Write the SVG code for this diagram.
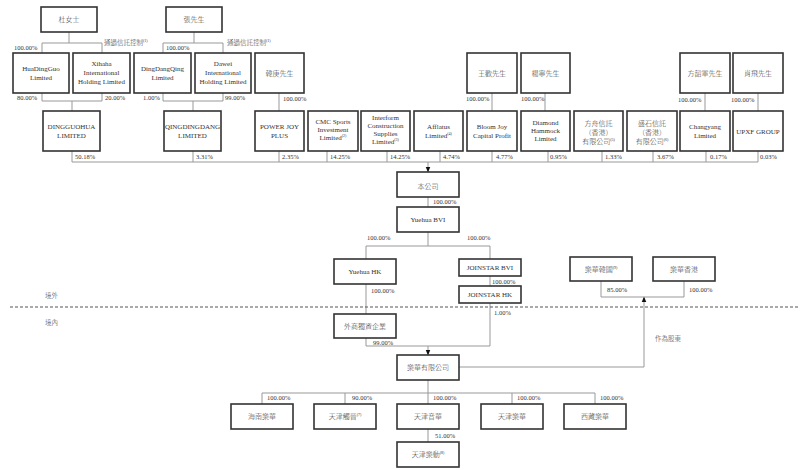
<svg xmlns="http://www.w3.org/2000/svg" width="800" height="470" viewBox="0 0 800 470">
<style>
.box{fill:#fff;stroke:#333;stroke-width:1.6}
.t{font-family:"Liberation Serif","Noto Sans CJK TC",serif;font-size:7px;fill:#333;text-anchor:middle;font-weight:300}
.p{font-family:"Liberation Serif","Noto Sans CJK TC",serif;font-size:6.5px;fill:#333;font-weight:300}
.ln{stroke:#999;stroke-width:1;fill:none}
.dash{stroke:#555;stroke-width:1;stroke-dasharray:3,2;fill:none}
</style>
<defs>
<marker id="ar" viewBox="0 0 10 10" refX="9" refY="5" markerWidth="6" markerHeight="6" orient="auto"><path d="M0,1 L10,5 L0,9 z" fill="#111"/></marker>
</defs>
<rect width="800" height="470" fill="#fff"/>
<g id="connectors">
<path class="ln" d="M69 32V43M42 53V43H102V53M42 93V101H102V93M72 101V111"/>
<path class="ln" d="M194 32V43M163 53V43H223V53M163 93V101H223V93M193 101V111"/>
<path class="ln" d="M279 93V111M492 93V111M545 93V111M705 93V111M758 93V111"/>
<path class="ln" d="M72 151V162H758V151M193 151V162M279 151V162M327 151V162M387 151V162M440 151V162M492 151V162M548 151V162M602 151V162M653 151V162M706 151V162"/>
<path class="ln" d="M428 162V172" stroke="#111" marker-end="url(#ar)"/>
<path class="ln" d="M428 197V207M428 232V246M366 259V246H490V259M490 276V286M366 284V314"/>
<path class="ln" d="M490 303V346H366V338"/>
<path class="ln" d="M428 346V355" marker-end="url(#ar)"/>
<path class="ln" d="M459 367H644V297" marker-end="url(#ar)"/>
<path class="ln" d="M601 281V297H684V281"/>
<path class="ln" d="M428 380V393M262 404V393H595V404M345 393V404M512 393V404M428 393V404M428 429V442"/>
<path class="dash" d="M10 307H800"/>
</g>
<g id="n_du"><rect class="box" x="41" y="7" width="56" height="25"/><text class="t" x="69" y="22">杜女士</text></g>
<g id="n_zhang"><rect class="box" x="166" y="7" width="56" height="25"/><text class="t" x="194" y="22">張先生</text></g>
<g id="n_huadingguo"><rect class="box" x="13" y="53" width="56" height="40"/><text class="t" x="41" y="71">HuaDingGuo</text><text class="t" x="41" y="80">Limited</text></g>
<g id="n_xihaha"><rect class="box" x="73" y="53" width="57" height="40"/><text class="t" x="101.5" y="66">Xihaha</text><text class="t" x="101.5" y="75">International</text><text class="t" x="101.5" y="84">Holding Limited</text></g>
<g id="n_dingdangqing"><rect class="box" x="134" y="53" width="57" height="40"/><text class="t" x="162.5" y="71">DingDangQing</text><text class="t" x="162.5" y="80">Limited</text></g>
<g id="n_dawei"><rect class="box" x="195" y="53" width="56" height="40"/><text class="t" x="223" y="66">Dawei</text><text class="t" x="223" y="75">International</text><text class="t" x="223" y="84">Holding Limited</text></g>
<g id="n_hangeng"><rect class="box" x="255" y="53" width="49" height="40"/><text class="t" x="279.5" y="76">韓庚先生</text></g>
<g id="n_wang"><rect class="box" x="467" y="53" width="50" height="40"/><text class="t" x="492" y="76">王歡先生</text></g>
<g id="n_yang"><rect class="box" x="521" y="53" width="49" height="40"/><text class="t" x="545.5" y="76">楊寧先生</text></g>
<g id="n_fang"><rect class="box" x="680" y="53" width="50" height="40"/><text class="t" x="705" y="76">方韶軍先生</text></g>
<g id="n_xiao"><rect class="box" x="733" y="53" width="50" height="40"/><text class="t" x="758" y="76">肖飛先生</text></g>
<g id="n_dingguohua"><rect class="box" x="43" y="111" width="57" height="40"/><text class="t" x="71.5" y="129">DINGGUOHUA</text><text class="t" x="71.5" y="138">LIMITED</text></g>
<g id="n_qingdingdang"><rect class="box" x="164" y="111" width="57" height="40"/><text class="t" x="192.5" y="129">QINGDINGDANG</text><text class="t" x="192.5" y="138">LIMITED</text></g>
<g id="n_powerjoy"><rect class="box" x="255" y="111" width="49" height="40"/><text class="t" x="279.5" y="129">POWER JOY</text><text class="t" x="279.5" y="138">PLUS</text></g>
<g id="n_cmc"><rect class="box" x="308" y="111" width="50" height="40"/><text class="t" x="333" y="124">CMC Sports</text><text class="t" x="333" y="132">Investment</text><text class="t" x="333" y="140">Limited<tspan font-size="4" dy="-3">(2)</tspan></text></g>
<g id="n_interform"><rect class="box" x="361" y="111" width="49" height="40"/><text class="t" x="385.5" y="120">Interform</text><text class="t" x="385.5" y="128">Construction</text><text class="t" x="385.5" y="136">Supplies</text><text class="t" x="385.5" y="144">Limited<tspan font-size="4" dy="-3">(3)</tspan></text></g>
<g id="n_afflatus"><rect class="box" x="414" y="111" width="49" height="40"/><text class="t" x="438.5" y="129">Afflatus</text><text class="t" x="438.5" y="138">Limited<tspan font-size="4" dy="-3">(4)</tspan></text></g>
<g id="n_bloomjoy"><rect class="box" x="467" y="111" width="50" height="40"/><text class="t" x="492" y="129">Bloom Joy</text><text class="t" x="492" y="138">Capital Profit</text></g>
<g id="n_diamond"><rect class="box" x="521" y="111" width="49" height="40"/><text class="t" x="545.5" y="125">Diamond</text><text class="t" x="545.5" y="133">Hammock</text><text class="t" x="545.5" y="141">Limited</text></g>
<g id="n_fangzhou"><rect class="box" x="574" y="111" width="49" height="40"/><text class="t" x="598.5" y="126">方舟信託</text><text class="t" x="598.5" y="135">（香港）</text><text class="t" x="598.5" y="144">有限公司<tspan font-size="4" dy="-3">(5)</tspan></text></g>
<g id="n_shengshi"><rect class="box" x="627" y="111" width="50" height="40"/><text class="t" x="652" y="126">盛石信託</text><text class="t" x="652" y="135">（香港）</text><text class="t" x="652" y="144">有限公司<tspan font-size="4" dy="-3">(6)</tspan></text></g>
<g id="n_changyang"><rect class="box" x="680" y="111" width="50" height="40"/><text class="t" x="705" y="129">Changyang</text><text class="t" x="705" y="138">Limited</text></g>
<g id="n_upxf"><rect class="box" x="733" y="111" width="50" height="40"/><text class="t" x="758" y="134">UPXF GROUP</text></g>
<g id="n_company"><rect class="box" x="397" y="172" width="62" height="25"/><text class="t" x="428" y="189" font-size="11">本公司</text></g>
<g id="n_yuehuabvi"><rect class="box" x="397" y="207" width="62" height="25"/><text class="t" x="428" y="222">Yuehua BVI</text></g>
<g id="n_yuehuahk"><rect class="box" x="334" y="259" width="62" height="25"/><text class="t" x="365" y="274">Yuehua HK</text></g>
<g id="n_joinstarbvi"><rect class="box" x="459" y="259" width="62" height="17"/><text class="t" x="490" y="270">JOINSTAR BVI</text></g>
<g id="n_joinstarhk"><rect class="box" x="459" y="286" width="62" height="17"/><text class="t" x="490" y="297">JOINSTAR HK</text></g>
<g id="n_wfoe"><rect class="box" x="334" y="314" width="62" height="24"/><text class="t" x="365" y="329">外商獨資企業</text></g>
<g id="n_yuehualtd"><rect class="box" x="397" y="355" width="62" height="25"/><text class="t" x="428" y="370">樂華有限公司</text></g>
<g id="n_yuehuakr"><rect class="box" x="570" y="257" width="62" height="24"/><text class="t" x="601" y="272">樂華韓國<tspan font-size="4" dy="-3">(9)</tspan></text></g>
<g id="n_yuehuahkg"><rect class="box" x="653" y="257" width="62" height="24"/><text class="t" x="684" y="272">樂華香港</text></g>
<g id="n_hainan"><rect class="box" x="231" y="404" width="62" height="25"/><text class="t" x="262" y="419">海南樂華</text></g>
<g id="n_tjcj"><rect class="box" x="314" y="404" width="62" height="25"/><text class="t" x="345" y="419">天津觸晉<tspan font-size="4" dy="-3">(7)</tspan></text></g>
<g id="n_tjyh"><rect class="box" x="397" y="404" width="62" height="25"/><text class="t" x="428" y="419">天津音華</text></g>
<g id="n_tjlh"><rect class="box" x="481" y="404" width="62" height="25"/><text class="t" x="512" y="419">天津樂華</text></g>
<g id="n_xizang"><rect class="box" x="564" y="404" width="62" height="25"/><text class="t" x="595" y="419">西藏樂華</text></g>
<g id="n_tjld"><rect class="box" x="397" y="442" width="62" height="25"/><text class="t" x="428" y="457">天津樂動<tspan font-size="4" dy="-3">(8)</tspan></text></g>
<g id="labels">
<text class="p" x="14" y="50">100.00%</text>
<text class="p" x="104" y="45">通過信託控制<tspan font-size="4" dy="-3">(1)</tspan></text>
<text class="p" x="17" y="100">80.00%</text>
<text class="p" x="105" y="100">20.00%</text>
<text class="p" x="166" y="50">100.00%</text>
<text class="p" x="227" y="45">通過信託控制<tspan font-size="4" dy="-3">(1)</tspan></text>
<text class="p" x="143" y="100">1.00%</text>
<text class="p" x="225" y="100">99.00%</text>
<text class="p" x="283" y="101">100.00%</text>
<text class="p" x="466" y="101">100.00%</text>
<text class="p" x="521" y="101">100.00%</text>
<text class="p" x="678" y="102">100.00%</text>
<text class="p" x="731" y="102">100.00%</text>
<text class="p" x="75" y="159">50.18%</text>
<text class="p" x="196" y="159">3.31%</text>
<text class="p" x="282" y="159">2.35%</text>
<text class="p" x="330" y="159">14.25%</text>
<text class="p" x="390" y="159">14.25%</text>
<text class="p" x="443" y="159">4.74%</text>
<text class="p" x="496" y="159">4.77%</text>
<text class="p" x="550" y="159">0.95%</text>
<text class="p" x="605" y="159">1.33%</text>
<text class="p" x="657" y="159">3.67%</text>
<text class="p" x="710" y="159">0.17%</text>
<text class="p" x="760" y="159">0.03%</text>
<text class="p" x="433" y="204">100.00%</text>
<text class="p" x="367" y="240">100.00%</text>
<text class="p" x="467" y="240">100.00%</text>
<text class="p" x="371" y="293">100.00%</text>
<text class="p" x="492" y="284">100.00%</text>
<text class="p" x="494" y="315">1.00%</text>
<text class="p" x="373" y="345">99.00%</text>
<text class="p" x="607" y="292">85.00%</text>
<text class="p" x="689" y="292">100.00%</text>
<text class="p" x="655" y="341" font-size="7">作為股東</text>
<text class="p" x="45" y="298" font-size="8">境外</text>
<text class="p" x="45" y="325" font-size="8">境內</text>
<text class="p" x="267" y="400">100.00%</text>
<text class="p" x="352" y="400">90.00%</text>
<text class="p" x="433" y="400">100.00%</text>
<text class="p" x="517" y="400">100.00%</text>
<text class="p" x="600" y="400">100.00%</text>
<text class="p" x="435" y="438">51.00%</text>
</g>
</svg>
